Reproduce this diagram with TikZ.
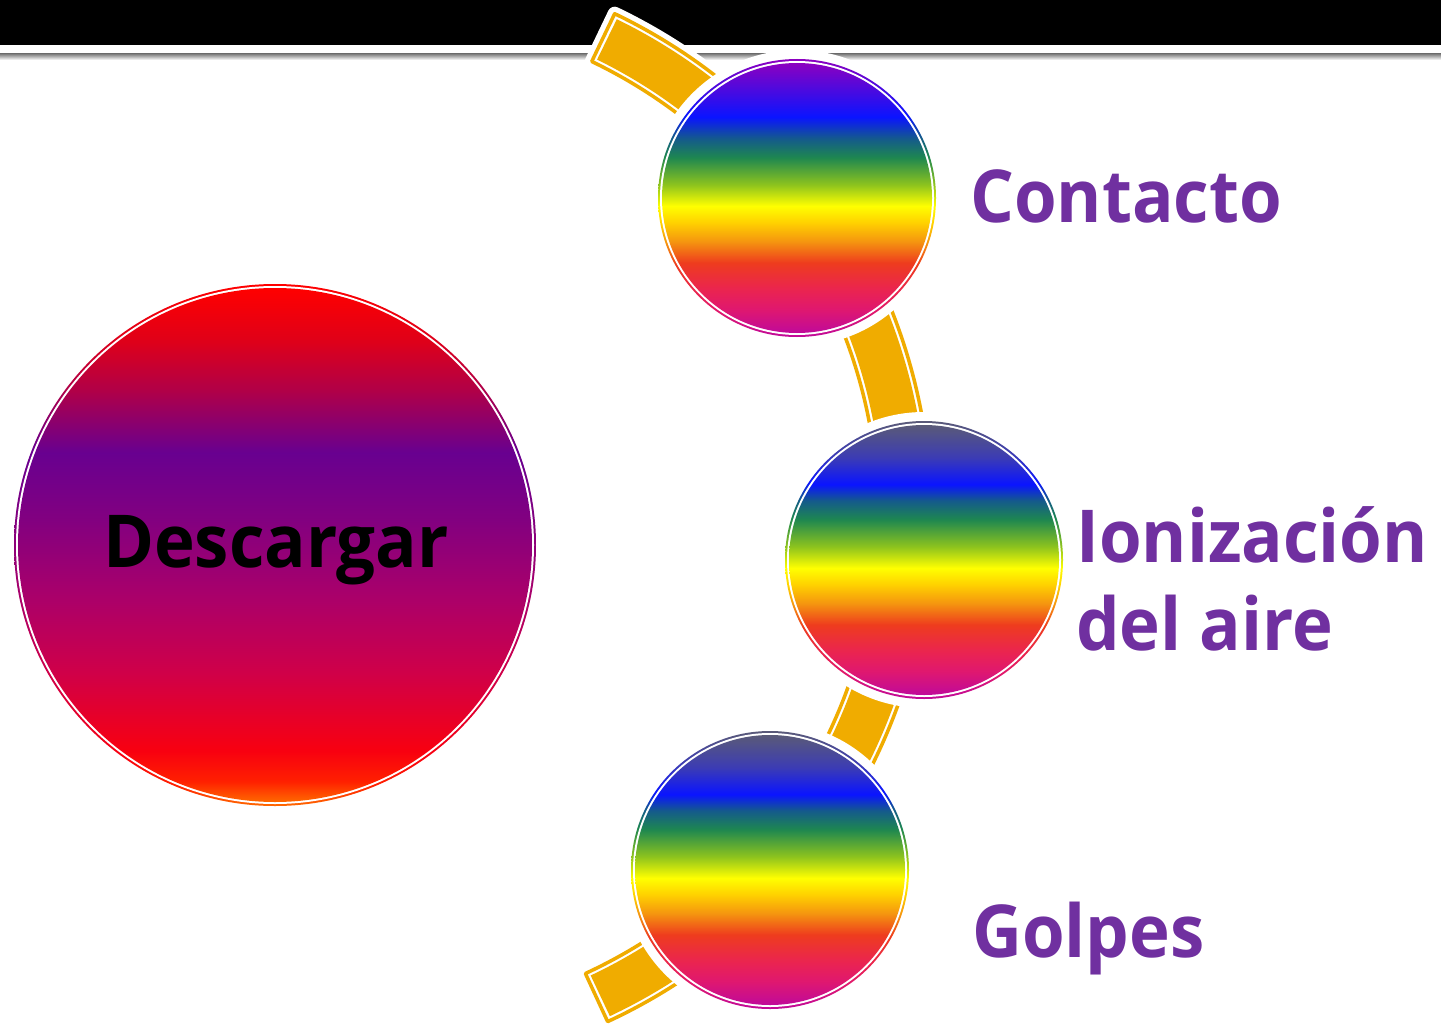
\documentclass[tikz,border=0pt]{standalone}
\usepackage{fontspec}
\setsansfont{Open Sans}
\usetikzlibrary{calc}
\definecolor{bandorange}{RGB}{240,172,0}
\definecolor{txtpurple}{RGB}{112,48,160}
% rainbow colours
\definecolor{rbTopA}{RGB}{140,0,192}
\definecolor{rbTopB}{RGB}{90,90,120}
\definecolor{rbTopB2}{RGB}{60,60,180}
\definecolor{rbBlue}{RGB}{10,20,255}
\definecolor{rbTeal}{RGB}{20,90,140}
\definecolor{rbGreen}{RGB}{30,135,80}
\definecolor{rbLime}{RGB}{140,195,30}
\definecolor{rbYellow}{RGB}{255,255,0}
\definecolor{rbGold}{RGB}{255,210,0}
\definecolor{rbOrange}{RGB}{245,150,15}
\definecolor{rbRedOr}{RGB}{238,60,30}
\definecolor{rbPink}{RGB}{234,36,80}
\definecolor{rbPink2}{RGB}{224,24,110}
\definecolor{rbMag}{RGB}{192,10,154}
% big circle colours
\definecolor{bgRed}{RGB}{255,0,0}
\definecolor{bgRed2}{RGB}{224,0,24}
\definecolor{bgWine}{RGB}{176,0,72}
\definecolor{bgPurple}{RGB}{104,0,144}
\definecolor{bgPurple2}{RGB}{130,0,128}
\definecolor{bgMag}{RGB}{170,0,106}
\definecolor{bgCrim}{RGB}{208,0,72}
\definecolor{bgRed3}{RGB}{248,0,16}
\definecolor{bgRed4}{RGB}{255,32,0}
\definecolor{bgOrange}{RGB}{255,106,0}
\pgfdeclareverticalshading{rainbowA}{100bp}{color(0bp)=(rbMag); color(25bp)=(rbMag); color(29.5bp)=(rbPink2); color(33bp)=(rbPink); color(38bp)=(rbRedOr); color(42bp)=(rbOrange); color(45.5bp)=(rbGold); color(48.5bp)=(rbYellow); color(52.5bp)=(rbLime); color(57.5bp)=(rbGreen); color(61bp)=(rbTeal); color(65bp)=(rbBlue); color(75bp)=(rbTopA); color(100bp)=(rbTopA)}
\pgfdeclareverticalshading{rainbowB}{100bp}{color(0bp)=(rbMag); color(25bp)=(rbMag); color(29.5bp)=(rbPink2); color(33bp)=(rbPink); color(38bp)=(rbRedOr); color(42bp)=(rbOrange); color(45.5bp)=(rbGold); color(48.5bp)=(rbYellow); color(52.5bp)=(rbLime); color(57.5bp)=(rbGreen); color(61bp)=(rbTeal); color(64bp)=(rbBlue); color(69bp)=(rbTopB2); color(75bp)=(rbTopB); color(100bp)=(rbTopB)}
\pgfdeclareverticalshading{bigshade}{100bp}{color(0bp)=(bgOrange); color(25bp)=(bgOrange); color(27bp)=(bgRed4); color(30bp)=(bgRed3); color(37.5bp)=(bgCrim); color(45bp)=(bgMag); color(52.5bp)=(bgPurple2); color(59bp)=(bgPurple); color(65bp)=(bgWine); color(70bp)=(bgRed2); color(75bp)=(bgRed); color(100bp)=(bgRed)}
\newcommand\narrowtext[1]{\scalebox{0.945}[1]{#1}}
\tikzset{
  halo/.style={fill=white, draw=white, line width=14pt, line join=round},
  bandout/.style={draw=bandorange, line width=3.5pt, line join=round},
  bandin/.style={fill=bandorange},
  label/.style={font=\sffamily\bfseries\fontsize{73}{88}\selectfont, text=txtpurple, inner sep=0pt},
}
\begin{document}
\begin{tikzpicture}[x=1pt,y=-1pt]
\useasboundingbox (0,0) rectangle (1441,1025);
% top bar
\fill[black] (0,0) rectangle (1441,45.5);
\shade[top color=black!50, bottom color=white] (0,54) rectangle (1441,60);
% band
\coordinate (C) at (374,516);
\path[halo] ($(C)+(64.4:557pt)$) arc[start angle=64.4, end angle=-65.2, radius=557pt] -- ($(C)+(-65.2:504pt)$) arc[start angle=-65.2, end angle=64.4, radius=504pt] -- cycle;
\path[bandout] ($(C)+(64.4:557pt)$) arc[start angle=64.4, end angle=-65.2, radius=557pt] -- ($(C)+(-65.2:504pt)$) arc[start angle=-65.2, end angle=64.4, radius=504pt] -- cycle;
\path[bandin] ($(C)+(63.95:553pt)$) arc[start angle=63.95, end angle=-64.75, radius=553pt] -- ($(C)+(-64.75:508pt)$) arc[start angle=-64.75, end angle=63.95, radius=508pt] -- cycle;
% small circles
\coordinate (c1) at (797,198);
\coordinate (c2) at (924,560);
\coordinate (c3) at (770,870);
\foreach \c/\s in {c1/rainbowA, c2/rainbowB, c3/rainbowB}{
  \fill[white] (\c) circle (148pt);
  \shade[shading=\s] (\c) circle (139pt);
  \fill[white] (\c) circle (137pt);
  \shade[shading=\s] (\c) circle (135pt);
}
% big circle
\coordinate (c0) at (275,545);
\shade[shading=bigshade] (c0) circle (261pt);
\fill[white] (c0) circle (259pt);
\shade[shading=bigshade] (c0) circle (257pt);
% texts
\node[label, text=black, anchor=base] (t0) at (276,567) {\narrowtext{Descargar}};
\node[label, anchor=base west] (t1) at (970,222) {\narrowtext{Contacto}};
\node[label, anchor=base west] (t2) at (1076,562) {\narrowtext{Ionización}};
\node[label, anchor=base west] (t2b) at (1076,650) {\narrowtext{del aire}};
\node[label, anchor=base west] (t3) at (972,957) {\narrowtext{Golpes}};
\end{tikzpicture}
\end{document}
